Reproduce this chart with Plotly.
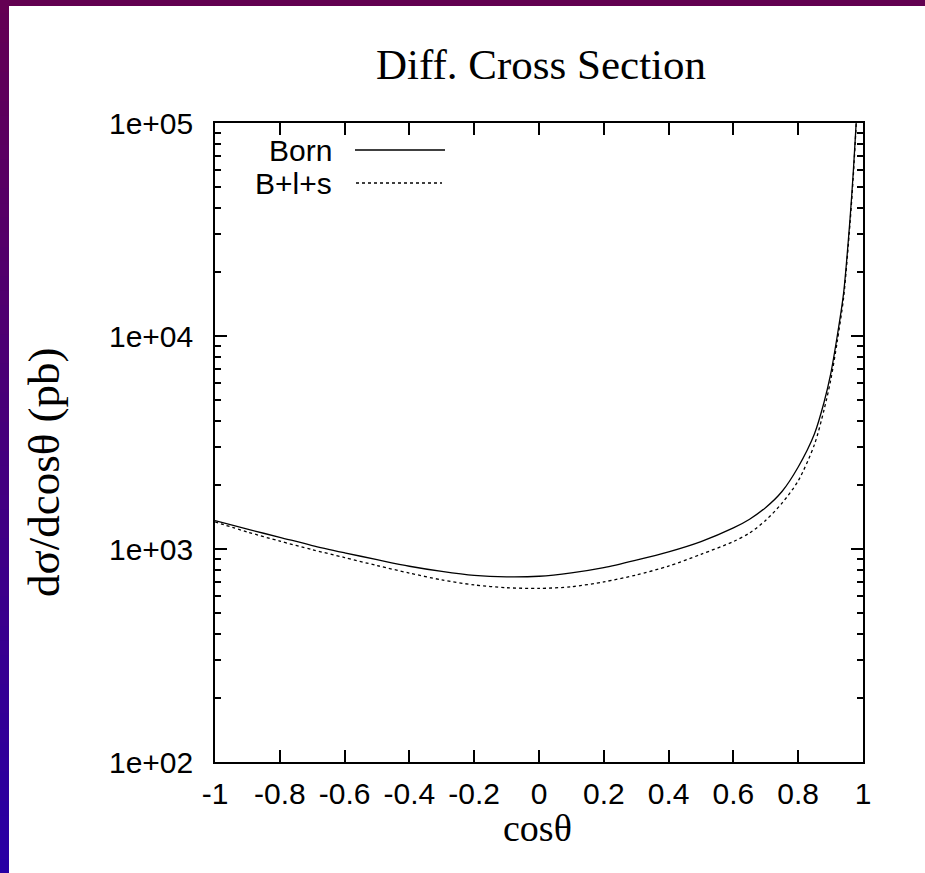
import plotly.graph_objects as go

# ---- data ----
cos_theta = [-1.0, -0.9, -0.8, -0.7, -0.6, -0.5, -0.4, -0.3, -0.2, -0.1, 0.0,
             0.1, 0.2, 0.3, 0.4, 0.5, 0.6, 0.65, 0.7, 0.75, 0.8, 0.85, 0.88,
             0.9, 0.92, 0.94, 0.96, 0.97, 0.98, 0.99]
born = [1358, 1239, 1135, 1038, 960, 891, 830, 785, 752, 740, 745,
        773, 818, 887, 970, 1084, 1256, 1380, 1567, 1862, 2427, 3467, 4900,
        6600, 9890, 15850, 35500, 58900, 107000, 200000]
blps = [1340, 1202, 1089, 993, 912, 836, 771, 716, 678, 658, 653,
        665, 701, 755, 832, 944, 1084, 1189, 1365, 1641, 2090, 3090, 4520,
        6170, 9330, 15100, 33900, 56200, 104700, 200000]

x_ticks = [-1.0, -0.8, -0.6, -0.4, -0.2, 0.0, 0.2, 0.4, 0.6, 0.8, 1.0]
x_tick_labels = ["-1", "-0.8", "-0.6", "-0.4", "-0.2", "0", "0.2", "0.4", "0.6", "0.8", "1"]
y_ticks = [100, 1000, 10000, 100000]
y_tick_labels = ["1e+02", "1e+03", "1e+04", "1e+05"]

series_names = ["Born", "B+l+s"]

W, H = 925, 873
L, R, T, B = 215, 925 - 863, 123, 873 - 762
PW, PH = W - L - R, H - T - B

fig = go.Figure()
fig.add_trace(go.Scatter(x=cos_theta, y=born, mode="lines", name=series_names[0],
                         line=dict(color="black", width=1.3, shape="spline", smoothing=0.8),
                         showlegend=False))
fig.add_trace(go.Scatter(x=cos_theta, y=blps, mode="lines", name=series_names[1],
                         line=dict(color="black", width=1.3, dash="3px,3px", shape="spline", smoothing=0.8),
                         showlegend=False))

sans = "Liberation Sans, Arial, sans-serif"
serif = "Liberation Serif, Times New Roman, serif"


def px_x(p):
    return (p - L) / PW


def px_y(p):
    return (H - B - p) / PH


shapes = []
# decorative frame: top purple bar and left gradient bar
shapes.append(dict(type="rect", xref="paper", yref="paper",
                   x0=px_x(-2), x1=px_x(W + 2), y0=px_y(6), y1=px_y(-2),
                   fillcolor="rgb(98,0,80)", line=dict(width=0), layer="below"))
n = 60
c0 = (100, 0, 82)
c1 = (40, 0, 165)
for i in range(n):
    f = (i + 0.5) / n
    col = tuple(round(c0[k] + (c1[k] - c0[k]) * f) for k in range(3))
    pa = -1 + (H + 2) * i / n
    pb = -1 + (H + 2) * (i + 1) / n + 1
    shapes.append(dict(type="rect", xref="paper", yref="paper",
                       x0=px_x(-2), x1=px_x(9), y0=px_y(pb), y1=px_y(pa),
                       fillcolor="rgb(%d,%d,%d)" % col, line=dict(width=0), layer="below"))

# legend sample lines
shapes.append(dict(type="line", xref="paper", yref="paper", x0=px_x(355), x1=px_x(445),
                   y0=px_y(150), y1=px_y(150), line=dict(color="black", width=1.3)))
shapes.append(dict(type="line", xref="paper", yref="paper", x0=px_x(356), x1=px_x(442),
                   y0=px_y(183), y1=px_y(183), line=dict(color="black", width=1.3, dash="3px,3px")))

annotations = [
    dict(text=series_names[0], xref="paper", yref="paper", x=px_x(334), y=px_y(150),
         xanchor="right", yanchor="middle", showarrow=False, font=dict(family=sans, size=30, color="black")),
    dict(text=series_names[1], xref="paper", yref="paper", x=px_x(334), y=px_y(183),
         xanchor="right", yanchor="middle", showarrow=False, font=dict(family=sans, size=30, color="black")),
    dict(text="dσ/dcosθ (pb)", xref="paper", yref="paper", x=px_x(44), y=px_y(472),
         xanchor="center", yanchor="middle", textangle=-90, showarrow=False,
         font=dict(family=serif, size=45, color="black")),
    dict(text="cosθ", xref="paper", yref="paper", x=px_x(537), y=px_y(828),
         xanchor="center", yanchor="middle", showarrow=False,
         font=dict(family=serif, size=38, color="black")),
    dict(text="Diff. Cross Section", xref="paper", yref="paper", x=px_x(541), y=px_y(64),
         xanchor="center", yanchor="middle", showarrow=False,
         font=dict(family=serif, size=43, color="black")),
]

fig.update_layout(
    width=W, height=H,
    margin=dict(l=L, r=R, t=T, b=B, pad=0),
    paper_bgcolor="white", plot_bgcolor="white",
    shapes=shapes, annotations=annotations,
    showlegend=False,
)
fig.update_xaxes(range=[-1, 1], tickvals=x_ticks, ticktext=x_tick_labels,
                 ticks="inside", ticklen=12, tickwidth=1.5, tickcolor="black",
                 showline=True, linecolor="black", linewidth=1.5, mirror="ticks",
                 showgrid=False, zeroline=False,
                 tickfont=dict(family=sans, size=30, color="black"), ticklabelstandoff=4)
fig.update_yaxes(type="log", range=[2, 5], tickvals=y_ticks, ticktext=y_tick_labels,
                 ticks="inside", ticklen=12, tickwidth=1.5, tickcolor="black",
                 minor=dict(ticks="inside", ticklen=6, tickwidth=1.5, tickcolor="black", dtick="D1", showgrid=False),
                 showline=True, linecolor="black", linewidth=1.5, mirror="ticks",
                 showgrid=False, zeroline=False,
                 tickfont=dict(family=sans, size=30, color="black"), ticklabelstandoff=14)

fig.write_html("out.html", config={"displayModeBar": False},
               post_script="document.body.style.margin='0';document.body.style.overflow='hidden';")
